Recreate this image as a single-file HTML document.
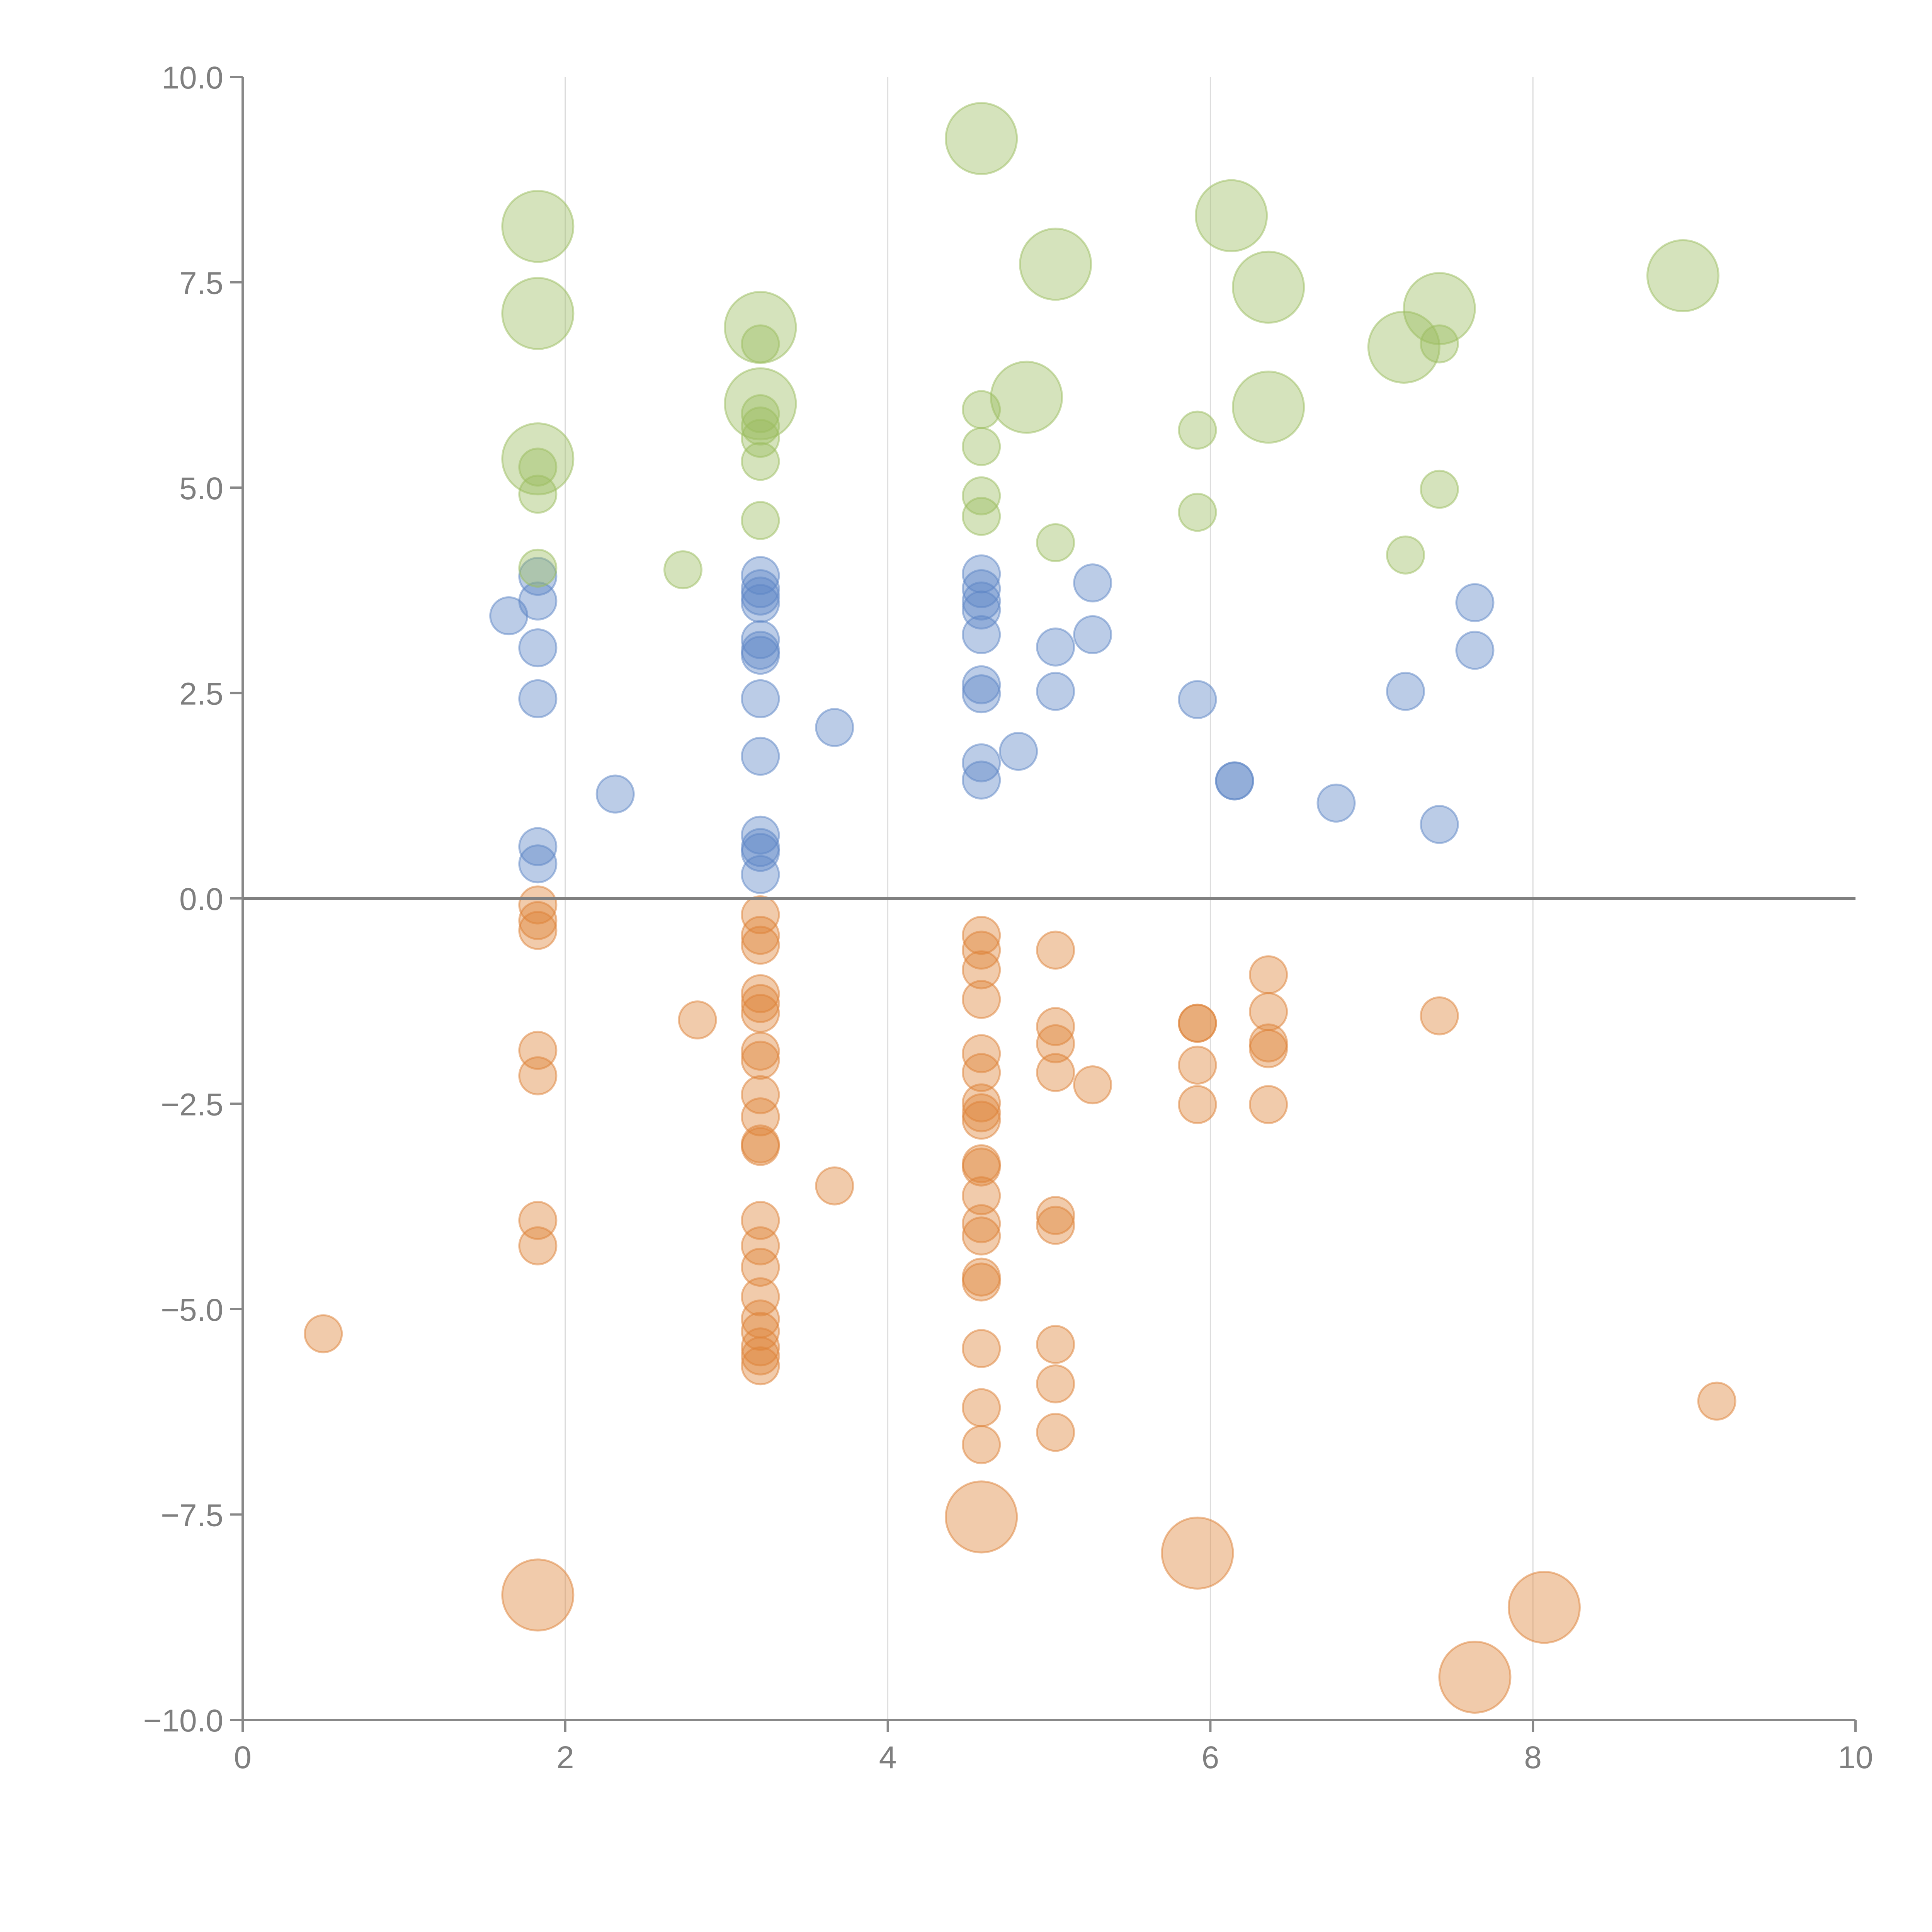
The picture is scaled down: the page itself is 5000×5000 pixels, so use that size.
<!DOCTYPE html>
<html><head><meta charset="utf-8"><style>
html,body{margin:0;padding:0;background:#fff;}
svg{display:block;font-family:"Liberation Sans",sans-serif;}
</style></head><body>
<svg id="chart" width="5000" height="5000" viewBox="0 0 5000 5000" xmlns="http://www.w3.org/2000/svg">
<g id="grid"></g>
<g id="marks"></g>
<g id="axes"></g>
</svg>
<script>
const xTicks = [0, 2, 4, 6, 8, 10];
const yTicks = [-10, -7.5, -5, -2.5, 0, 2.5, 5, 7.5, 10];
const yTickLabels = ["\u221210.0", "\u22127.5", "\u22125.0", "\u22122.5", "0.0", "2.5", "5.0", "7.5", "10.0"];
// [x, y, big(1)/small(0)]
const greenSeries = [
[1.83,8.18,1],[1.83,7.12,1],[1.83,5.35,1],[1.83,5.25,0],[1.83,4.92,0],[1.83,4.02,0],
[2.73,4.0,0],
[3.21,6.95,1],[3.21,6.02,1],[3.21,6.75,0],[3.21,5.9,0],[3.21,5.75,0],[3.21,5.6,0],[3.21,5.32,0],[3.21,4.6,0],
[4.58,9.25,1],[4.58,5.95,0],[4.58,5.5,0],[4.58,4.9,0],[4.58,4.65,0],
[4.86,6.1,1],[5.04,7.72,1],[5.04,4.33,0],
[5.92,5.7,0],[5.92,4.7,0],[6.13,8.31,1],[6.36,7.44,1],[6.36,5.98,1],
[7.2,6.71,1],[7.21,4.18,0],[7.42,7.18,1],[7.42,6.75,0],[7.42,4.98,0],[8.93,7.58,1]
];
const blueSeries = [
[1.65,3.44,0],
[1.83,3.92,0],[1.83,3.62,0],[1.83,3.05,0],[1.83,2.43,0],[1.83,0.63,0],[1.83,0.42,0],
[2.31,1.27,0],
[3.21,3.93,0],[3.21,3.77,0],[3.21,3.68,0],[3.21,3.59,0],[3.21,3.15,0],[3.21,3.02,0],[3.21,2.96,0],[3.21,2.43,0],[3.21,1.73,0],[3.21,0.77,0],[3.21,0.62,0],[3.21,0.56,0],[3.21,0.29,0],
[3.67,2.08,0],
[4.58,3.95,0],[4.58,3.77,0],[4.58,3.62,0],[4.58,3.51,0],[4.58,3.21,0],[4.58,2.6,0],[4.58,2.49,0],[4.58,1.65,0],[4.58,1.44,0],
[4.81,1.79,0],[5.04,3.06,0],[5.04,2.52,0],[5.27,3.84,0],[5.27,3.21,0],
[5.92,2.42,0],[6.15,1.43,0],[6.15,1.43,0],[6.78,1.16,0],[7.21,2.52,0],[7.42,0.9,0],[7.64,3.6,0],[7.64,3.02,0]
];
const orangeSeries = [
[0.5,-5.3,0],
[1.83,-0.08,0],[1.83,-0.27,0],[1.83,-0.39,0],[1.83,-1.85,0],[1.83,-2.16,0],[1.83,-3.92,0],[1.83,-4.23,0],[1.83,-8.48,1],
[2.82,-1.48,0],
[3.21,-0.2,0],[3.21,-0.45,0],[3.21,-0.57,0],[3.21,-1.16,0],[3.21,-1.28,0],[3.21,-1.4,0],[3.21,-1.86,0],[3.21,-1.97,0],[3.21,-2.39,0],[3.21,-2.66,0],[3.21,-2.99,0],[3.21,-3.02,0],[3.21,-3.92,0],[3.21,-4.23,0],[3.21,-4.49,0],[3.21,-4.85,0],[3.21,-5.12,0],[3.21,-5.27,0],[3.21,-5.46,0],[3.21,-5.57,0],[3.21,-5.69,0],
[3.67,-3.5,0],
[4.58,-0.45,0],[4.58,-0.63,0],[4.58,-0.87,0],[4.58,-1.23,0],[4.58,-1.89,0],[4.58,-2.12,0],[4.58,-2.49,0],[4.58,-2.61,0],[4.58,-2.7,0],[4.58,-3.23,0],[4.58,-3.27,0],[4.58,-3.62,0],[4.58,-3.96,0],[4.58,-4.11,0],[4.58,-4.61,0],[4.58,-4.67,0],[4.58,-5.48,0],[4.58,-6.2,0],[4.58,-6.65,0],[4.58,-7.53,1],
[5.04,-0.63,0],[5.04,-1.56,0],[5.04,-1.77,0],[5.04,-2.12,0],[5.04,-3.86,0],[5.04,-3.98,0],[5.04,-5.43,0],[5.04,-5.91,0],[5.04,-6.5,0],
[5.27,-2.27,0],
[5.92,-1.52,0],[5.92,-1.52,0],[5.92,-2.03,0],[5.92,-2.51,0],[5.92,-7.97,1],
[6.36,-0.93,0],[6.36,-1.38,0],[6.36,-1.76,0],[6.36,-1.83,0],[6.36,-2.51,0],
[7.42,-1.43,0],[8.07,-8.63,1],[7.64,-9.48,1],[9.14,-6.12,0]
];
const NS = "http://www.w3.org/2000/svg";
const X0 = 628, X1 = 4802, Y0 = 4451, Y1 = 199;
function sx(v){ return X0 + (v - 0) / 10 * (X1 - X0); }
function sy(v){ return Y0 - (v + 10) / 20 * (Y0 - Y1); }
function mk(tag, attrs, parent){ const e = document.createElementNS(NS, tag); for (const k in attrs) e.setAttribute(k, attrs[k]); parent.appendChild(e); return e; }
const grid = document.getElementById('grid');
const marks = document.getElementById('marks');
const axes = document.getElementById('axes');
xTicks.forEach(t => {
  if (t > 0 && t < 10) {
    const g = mk('line', {x1: sx(t), x2: sx(t), y1: Y1, y2: Y0, stroke: '#dcdcdc', 'stroke-width': 3}, grid);
    
    
  }
});
function drawSeries(arr, color, name){
  arr.forEach(d => {
    const c = mk('circle', {cx: sx(d[0]), cy: sy(d[1]), r: d[2] ? 92 : 48, fill: color, 'fill-opacity': 0.42, stroke: color, 'stroke-opacity': 0.5, 'stroke-width': 5}, marks);
    
    
  });
}
drawSeries(orangeSeries, '#de8238', 'bubble-orange');
drawSeries(blueSeries, '#5d86c5', 'bubble-blue');
drawSeries(greenSeries, '#9bbd60', 'bubble-green');
let a = mk('line', {x1: X0, x2: X0, y1: Y1, y2: Y0, stroke: '#888', 'stroke-width': 6}, axes);


a = mk('line', {x1: X0, x2: X1, y1: Y0, y2: Y0, stroke: '#888', 'stroke-width': 6}, axes);


a = mk('line', {x1: X0, x2: X1, y1: sy(0), y2: sy(0), stroke: '#808080', 'stroke-width': 8}, axes);


yTicks.forEach((t, i) => {
  const l = mk('line', {x1: X0 - 32, x2: X0, y1: sy(t), y2: sy(t), stroke: '#888', 'stroke-width': 6}, axes);
  
  
  const tx = mk('text', {x: X0 - 50, y: sy(t) + 30, 'text-anchor': 'end', 'font-size': 82, fill: '#7f7f7f'}, axes);
  tx.textContent = yTickLabels[i];
  
  
});
xTicks.forEach(t => {
  const l = mk('line', {x1: sx(t), x2: sx(t), y1: Y0, y2: Y0 + 32, stroke: '#888', 'stroke-width': 6}, axes);
  
  
  const tx = mk('text', {x: sx(t), y: Y0 + 125, 'text-anchor': 'middle', 'font-size': 82, fill: '#7f7f7f'}, axes);
  tx.textContent = String(t);
  
  
});
</script>
</body></html>
